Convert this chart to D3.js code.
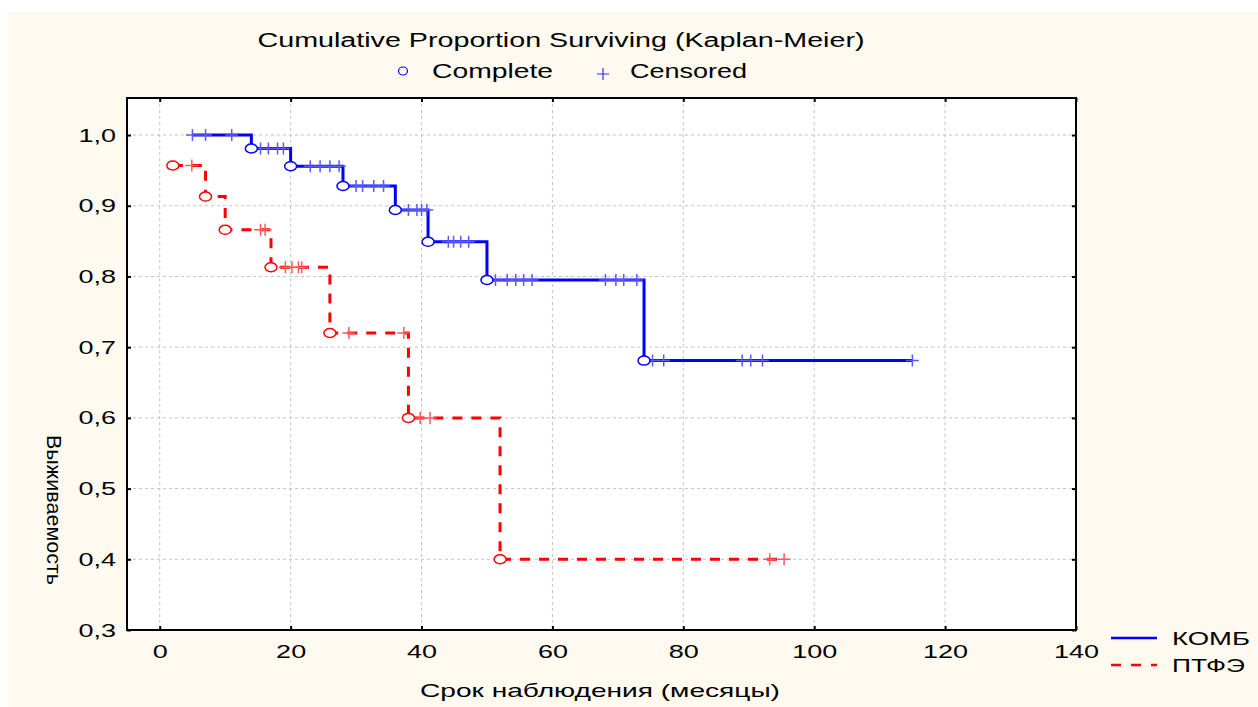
<!DOCTYPE html>
<html>
<head>
<meta charset="utf-8">
<script src="https://cdn.jsdelivr.net/npm/d3@7"></script>
<style>
  body { margin: 0; background: #fff; }
  text { font-family: "Liberation Sans", Arial, sans-serif; fill: #000; }
</style>
</head>
<body>
<div id="chart"></div>
<script>
// КОМБ group: event (complete) times and survival after each event
const kombEventTimes = [14, 20, 28, 36, 41, 50, 74];
const kombEventSurv = [0.981, 0.956, 0.928, 0.894, 0.849, 0.795, 0.681];
const kombCensored = [5, 7, 11, 15.4, 16.6, 18, 18.9, 23, 24.5, 26, 27.4, 30, 31, 32.7, 34.2,
    38, 39.3, 40, 40.8, 44.1, 44.9, 46, 47.2, 51.3, 53.1, 54.4, 55.6, 56.9,
    68.1, 69.7, 70.9, 72.9, 75.3, 77, 89, 90.3, 92.1, 115];

// ПТФЭ group
const ptfeEventTimes = [2, 7, 10, 17, 26, 38, 52];
const ptfeEventSurv = [0.957, 0.913, 0.866, 0.813, 0.72, 0.60, 0.40];
const ptfeCensored = [4.9, 15.4, 16.1, 19.2, 20.2, 21.2, 21.7, 28.9, 37.3, 39.8, 41.3, 93.2, 95.4];

const xTicks = [0, 20, 40, 60, 80, 100, 120, 140];
const yTicks = [0.3, 0.4, 0.5, 0.6, 0.7, 0.8, 0.9, 1.0];

const W = 1258, H = 707;
const STRETCH = 1.42; // reference text is drawn wide

const svg = d3.select("#chart").append("svg")
    .attr("width", W)
    .attr("height", H);

// cream page background
svg.append("rect")
    .attr("x", 8).attr("y", 12)
    .attr("width", W - 8).attr("height", H - 12)
    .attr("fill", "#fefaf0");

const x = d3.scaleLinear().domain([-5, 140]).range([127, 1076]);
const y = d3.scaleLinear().domain([0.3, 1.0524]).range([630, 98]);

// plot area
svg.append("rect")
    .attr("x", x.range()[0]).attr("y", y.range()[1])
    .attr("width", x.range()[1] - x.range()[0])
    .attr("height", y.range()[0] - y.range()[1])
    .attr("fill", "#fff");

// grid
const grid = svg.append("g")
    .attr("stroke", "#c4c4c4")
    .attr("stroke-width", 1)
    .attr("stroke-dasharray", "3,3");

grid.selectAll("line.v")
    .data(xTicks.filter(d => d < 140))
    .join("line")
    .attr("x1", d => x(d)).attr("x2", d => x(d))
    .attr("y1", y.range()[1]).attr("y2", y.range()[0]);

grid.selectAll("line.h")
    .data(yTicks.filter(d => d > 0.3))
    .join("line")
    .attr("y1", d => y(d)).attr("y2", d => y(d))
    .attr("x1", x.range()[0]).attr("x2", x.range()[1]);

// axes with inward ticks
const fmt = d => d3.format(".1f")(d).replace(".", ",");

const xAxis = svg.append("g")
    .attr("transform", `translate(0,${y.range()[0]})`)
    .call(d3.axisBottom(x).tickValues(xTicks).tickSize(-4).tickPadding(15));

const yAxis = svg.append("g")
    .attr("transform", `translate(${x.range()[0]},0)`)
    .call(d3.axisLeft(y).tickValues(yTicks).tickFormat(fmt).tickSize(-4).tickPadding(11));

svg.append("g")
    .attr("transform", `translate(0,${y.range()[1]})`)
    .call(d3.axisTop(x).tickValues(xTicks).tickFormat("").tickSize(-4));

svg.append("g")
    .attr("transform", `translate(${x.range()[1]},0)`)
    .call(d3.axisRight(y).tickValues(yTicks).tickFormat("").tickSize(-4));

svg.selectAll(".domain").remove();
svg.selectAll(".tick line").attr("stroke", "#000").attr("stroke-width", 2);
svg.selectAll(".tick text")
    .attr("font-size", 19)
    .attr("font-family", "Liberation Sans, Arial, sans-serif")
    .attr("fill", "#000");

// frame
svg.append("rect")
    .attr("x", x.range()[0]).attr("y", y.range()[1])
    .attr("width", x.range()[1] - x.range()[0])
    .attr("height", y.range()[0] - y.range()[1])
    .attr("fill", "none")
    .attr("stroke", "#000")
    .attr("stroke-width", 2);

// build KM observations: events and censored, sorted by time
function observations(evT, evS, cens) {
    const obs = evT.map((t, i) => ({ t, s: evS[i], event: true }))
        .concat(cens.map(t => ({ t, event: false })));
    obs.sort((a, b) => a.t - b.t || (b.event - a.event));
    let s = 1;
    obs.forEach(o => {
        if (o.event) { o.prev = s; s = o.s; } else { o.s = s; }
    });
    return obs;
}

function stepPath(obs) {
    const pts = [];
    obs.forEach((o, i) => {
        if (i === 0) {
            pts.push([o.t, o.s]);
            return;
        }
        pts.push([o.t, obs[i - 1].s]);
        if (o.event) pts.push([o.t, o.s]);
    });
    return d3.line().x(d => x(d[0])).y(d => y(d[1]))(pts);
}

const groups = [
    { obs: observations(kombEventTimes, kombEventSurv, kombCensored), color: "#0000ff", light: "#5a5aff", dash: null },
    { obs: observations(ptfeEventTimes, ptfeEventSurv, ptfeCensored), color: "#ff0000", light: "#ff5a5a", dash: "10,9" }
];

// draw red first, blue on top
groups.slice().reverse().forEach(g => {
    const layer = svg.append("g");

    layer.append("path")
        .attr("d", stepPath(g.obs))
        .attr("fill", "none")
        .attr("stroke", g.color)
        .attr("stroke-width", 3)
        .attr("stroke-dasharray", g.dash);

    // censored marks
    layer.selectAll("path.cens")
        .data(g.obs.filter(o => !o.event))
        .join("path")
        .attr("d", o => `M${x(o.t) - 6.5},${y(o.s)}h13M${x(o.t)},${y(o.s) - 6}v12`)
        .attr("stroke", g.light)
        .attr("stroke-width", 1.5)
        .attr("fill", "none");

    // complete events
    layer.selectAll("ellipse")
        .data(g.obs.filter(o => o.event))
        .join("ellipse")
        .attr("cx", o => x(o.t))
        .attr("cy", o => y(o.s))
        .attr("rx", 6)
        .attr("ry", 4.5)
        .attr("fill", "#fff")
        .attr("stroke", g.color)
        .attr("stroke-width", 1.5);
});

// titles
svg.append("text")
    .attr("x", 561).attr("y", 47)
    .attr("text-anchor", "middle")
    .attr("font-size", 20)
    .attr("textLength", 607)
    .attr("lengthAdjust", "spacingAndGlyphs")
    .text("Cumulative Proportion Surviving (Kaplan-Meier)");

svg.append("ellipse")
    .attr("cx", 403).attr("cy", 71)
    .attr("rx", 4.5).attr("ry", 4)
    .attr("fill", "none")
    .attr("stroke", "#0000ff")
    .attr("stroke-width", 1.2);

svg.append("text")
    .attr("x", 432).attr("y", 78)
    .attr("font-size", 20)
    .attr("textLength", 121)
    .attr("lengthAdjust", "spacingAndGlyphs")
    .text("Complete");

svg.append("path")
    .attr("d", "M597,74h12M603,68v12")
    .attr("stroke", "#3030ff")
    .attr("stroke-width", 1.2);

svg.append("text")
    .attr("x", 630).attr("y", 78)
    .attr("font-size", 20)
    .attr("textLength", 117)
    .attr("lengthAdjust", "spacingAndGlyphs")
    .text("Censored");

svg.append("text")
    .attr("x", 600).attr("y", 697)
    .attr("text-anchor", "middle")
    .attr("font-size", 19)
    .attr("textLength", 360)
    .attr("lengthAdjust", "spacingAndGlyphs")
    .text("Срок наблюдения (месяцы)");

svg.append("text")
    .attr("transform", "translate(47,510) scale(1.35,1) rotate(90)")
    .attr("text-anchor", "middle")
    .attr("font-size", 15)
    .attr("textLength", 150)
    .attr("lengthAdjust", "spacingAndGlyphs")
    .text("Выживаемость");

// stretch tick labels like the reference
svg.selectAll(".tick text").each(function () {
    const len = this.getComputedTextLength();
    if (len > 0) {
        d3.select(this)
            .attr("textLength", len * STRETCH)
            .attr("lengthAdjust", "spacingAndGlyphs");
    }
});

// group legend, bottom right
const legendItems = [
    { label: "КОМБ", color: "#0000ff", dash: null, y: 638, len: 78 },
    { label: "ПТФЭ", color: "#ff0000", dash: "10,10", y: 665, len: 73 }
];

const legend = svg.append("g");
legendItems.forEach(d => {
    legend.append("line")
        .attr("x1", 1111).attr("x2", 1157)
        .attr("y1", d.y).attr("y2", d.y)
        .attr("stroke", d.color)
        .attr("stroke-width", 2.5)
        .attr("stroke-dasharray", d.dash);
    legend.append("text")
        .attr("x", 1172).attr("y", d.y + 7)
        .attr("font-size", 19)
        .attr("textLength", d.len)
        .attr("lengthAdjust", "spacingAndGlyphs")
        .text(d.label);
});
</script>
</body>
</html>
